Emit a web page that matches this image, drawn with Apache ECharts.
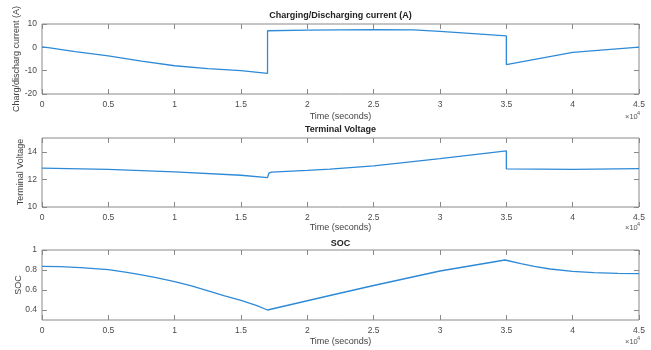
<!DOCTYPE html>
<html><head><meta charset="utf-8">
<script src="https://cdn.jsdelivr.net/npm/echarts@6/dist/echarts.min.js"></script>
<style>html,body{margin:0;padding:0;background:#fff}#c{width:651px;height:350px}</style>
</head><body><div id="c"></div>
<script>
// Panel 1: charging/discharging current (A)
const tCurrent = [0, 600, 2500, 5000, 7500, 10000, 12500, 15000, 17000, 17000, 20000, 25000, 28000, 30000, 35000, 35000, 40000, 45000];
const current  = [0.2, -0.2, -1.8, -3.7, -5.9, -7.9, -9.1, -10.0, -11.2, 7.1, 7.4, 7.6, 7.5, 6.8, 4.9, -7.4, -2.2, 0.1];
// Panel 2: terminal voltage
const tVoltage = [0, 5000, 10000, 15000, 17000, 17100, 17300, 20000, 21700, 25000, 30000, 35000, 35000, 40000, 45000];
const voltage  = [12.82, 12.72, 12.55, 12.3, 12.13, 12.45, 12.52, 12.65, 12.75, 12.98, 13.5, 14.07, 12.76, 12.72, 12.78];
// Panel 3: SOC
const tSoc = [0, 1400, 2900, 5000, 6400, 7400, 8600, 10000, 11200, 12400, 13700, 15000, 16200, 17000,
              21700, 25000, 30000, 34900, 36100, 37100, 38300, 40000, 41600, 43400, 45000];
const soc  = [0.837, 0.833, 0.823, 0.803, 0.777, 0.753, 0.723, 0.683, 0.643, 0.597, 0.543, 0.497, 0.443, 0.40,
              0.545, 0.645, 0.79, 0.90, 0.863, 0.837, 0.81, 0.787, 0.773, 0.767, 0.763];

const titles = ['Charging/Discharging current (A)', 'Terminal Voltage', 'SOC'];
const yNames = ['Charg/discharg current (A)', 'Terminal Voltage', 'SOC'];
const xName = 'Time (seconds)';
const yRanges = [[-20, 10], [10, 15], [0.3, 1]];
const yTickValues = [[-20, -10, 0, 10], [10, 12, 14], [0.4, 0.6, 0.8, 1]];

const FONT = '"Liberation Sans", Arial, sans-serif';
const grids = [
  {left: 42, top: 24, width: 597, height: 70},
  {left: 42, top: 138, width: 597, height: 69},
  {left: 42, top: 250, width: 597, height: 70}
];
const lineColor = '#2e8ad6';
const axisGray = '#8a8a8a';
const labelColor = '#4a4a4a';

const xAxes = [], yAxes = [], series = [];
const dataSets = [[tCurrent, current], [tVoltage, voltage], [tSoc, soc]];
grids.forEach((g, i) => {
  const tickBase = {show: true, inside: true, length: 5, lineStyle: {color: axisGray, width: 1}};
  const noLine = {show: false, onZero: false};
  xAxes.push({gridIndex: i, type: 'value', min: 0, max: 45000, interval: 5000, position: 'bottom',
    axisLine: noLine, splitLine: {show: false}, axisTick: tickBase,
    axisLabel: {show: true, margin: 6, fontSize: 8.5, color: labelColor, fontFamily: FONT,
      formatter: v => String(+(v / 10000).toFixed(1))}});
  xAxes.push({gridIndex: i, type: 'value', min: 0, max: 45000, interval: 5000, position: 'top',
    axisLine: noLine, splitLine: {show: false}, axisTick: tickBase, axisLabel: {show: false}});
  const r = yRanges[i];
  const yBase = {gridIndex: i, type: 'value', min: r[0], max: r[1], axisLine: noLine, splitLine: {show: false}};
  const tick = Object.assign({}, tickBase, {customValues: yTickValues[i]});
  const lab = {show: true, margin: 5, fontSize: 8.5, color: labelColor, fontFamily: FONT,
    customValues: yTickValues[i], formatter: v => String(+v.toFixed(2))};
  yAxes.push(Object.assign({}, yBase, {position: 'left', axisTick: tick, axisLabel: lab}));
  yAxes.push(Object.assign({}, yBase, {position: 'right', axisTick: tick, axisLabel: {show: false}}));
  const [tx, vy] = dataSets[i];
  series.push({type: 'line', xAxisIndex: 2 * i, yAxisIndex: 2 * i, showSymbol: false, symbol: 'none',
    animation: false, lineStyle: {color: lineColor, width: 1.3},
    data: tx.map((t, k) => [t, vy[k]])});
});

const graphic = [];
const titleY = [16, 130, 244];
const xNameY = [117, 228, 342];
const yNamePos = [[17, 59], [21, 172], [19, 285]];
grids.forEach((g, i) => {
  graphic.push({type: 'text', x: 340.5, y: titleY[i], style: {text: titles[i], align: 'center', verticalAlign: 'middle',
    font: 'bold 9px ' + FONT, fill: '#222'}});
  graphic.push({type: 'text', x: 340.5, y: xNameY[i], style: {text: xName, align: 'center', verticalAlign: 'middle',
    font: '9px ' + FONT, fill: '#444'}});
  graphic.push({type: 'text', x: 625, y: xNameY[i] - 4, style: {text: '×10', align: 'left', verticalAlign: 'top',
    font: '7.5px ' + FONT, fill: '#555'}});
  graphic.push({type: 'text', x: 637, y: xNameY[i] - 7, style: {text: '4', align: 'left', verticalAlign: 'top',
    font: '5.5px ' + FONT, fill: '#555'}});
  graphic.push({type: 'text', x: yNamePos[i][0], y: yNamePos[i][1], rotation: Math.PI / 2,
    style: {text: yNames[i], align: 'center', verticalAlign: 'middle', font: '9px ' + FONT, fill: '#444'}});
});

const chart = echarts.init(document.getElementById('c'), null, {renderer: 'canvas'});
chart.setOption({
  backgroundColor: '#fff',
  animation: false,
  grid: grids.map(g => Object.assign({show: true, borderColor: axisGray, borderWidth: 1, backgroundColor: 'transparent'}, g)),
  xAxis: xAxes,
  yAxis: yAxes,
  series: series,
  graphic: graphic
});
</script></body></html>
